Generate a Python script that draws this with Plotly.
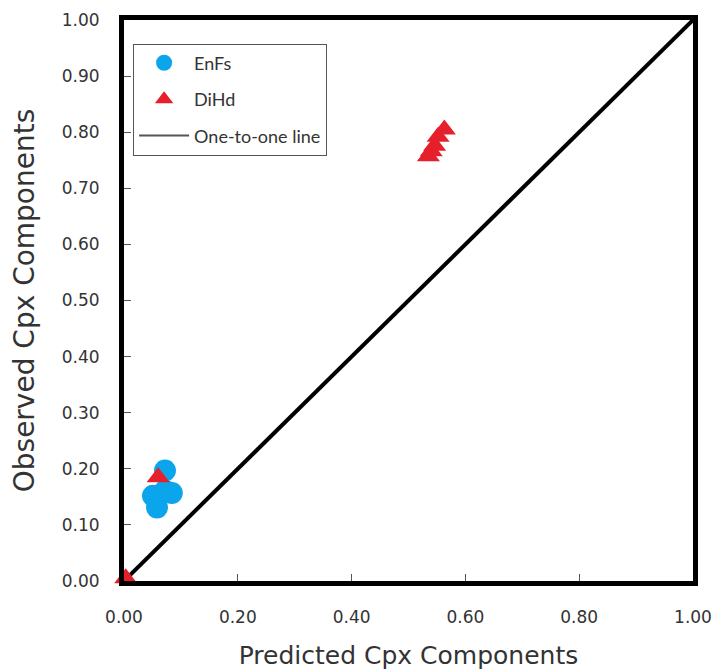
import plotly.graph_objects as go

enfs_x = [0.072, 0.084, 0.051, 0.058, 0.072]
enfs_y = [0.197, 0.157, 0.152, 0.131, 0.161]

dihd_x = [0.003, 0.060, 0.563, 0.552, 0.546, 0.540, 0.535]
dihd_y = [0.005, 0.185, 0.805, 0.792, 0.776, 0.766, 0.757]

line_x = [0.0, 1.0]
line_y = [0.0, 1.0]

x_ticks = [0.0, 0.2, 0.4, 0.6, 0.8, 1.0]
y_ticks = [0.0, 0.1, 0.2, 0.3, 0.4, 0.5, 0.6, 0.7, 0.8, 0.9, 1.0]

fig = go.Figure()
fig.add_trace(go.Scatter(x=line_x, y=line_y, mode="lines", name="One-to-one line",
                         line=dict(color="black", width=4), showlegend=False))
fig.add_trace(go.Scatter(x=enfs_x, y=enfs_y, mode="markers", name="EnFs", legendgroup="a",
                         marker=dict(color="#0BA5EC", size=22, symbol="circle"), cliponaxis=False))
fig.add_trace(go.Scatter(x=dihd_x, y=dihd_y, mode="markers", name="DiHd", legendgroup="b",
                         marker=dict(color="#E5202B", size=20, symbol="triangle-up"), cliponaxis=False))
fig.add_trace(go.Scatter(x=[None], y=[None], mode="lines", name="One-to-one line", legendgroup="c",
                         line=dict(color="#555555", width=2)))

tickstyle = dict(range=[0, 1], tickformat=".2f", automargin=False,
                 showgrid=False, zeroline=False, showline=True, linewidth=5, linecolor="black",
                 mirror=True, ticks="inside", ticklen=7, tickcolor="#555555", tickwidth=1,
                 tickfont=dict(family="DejaVu Sans", size=17, color="#333333"))

fig.update_layout(
    width=720, height=670,
    margin=dict(l=124, r=27, t=20, b=89),
    paper_bgcolor="white", plot_bgcolor="white",
    font=dict(family="DejaVu Sans", color="#333333"),
    showlegend=True,
    legend=dict(x=0.016, y=0.958, xanchor="left", yanchor="top",
                bordercolor="#555555", borderwidth=1, bgcolor="white",
                font=dict(family="Lato", size=18, color="#333333"),
                tracegroupgap=10, itemwidth=50),
    xaxis=dict(**tickstyle, tickvals=x_ticks, ticklabelstandoff=17,
               title=dict(text="Predicted Cpx Components", font=dict(size=25, color="#333333"), standoff=25)),
    yaxis=dict(**tickstyle, tickvals=y_ticks, ticklabelstandoff=16,
               title=dict(text="Observed Cpx Components", font=dict(size=28, color="#333333"), standoff=20)),
)

fig.write_html("out.html")
